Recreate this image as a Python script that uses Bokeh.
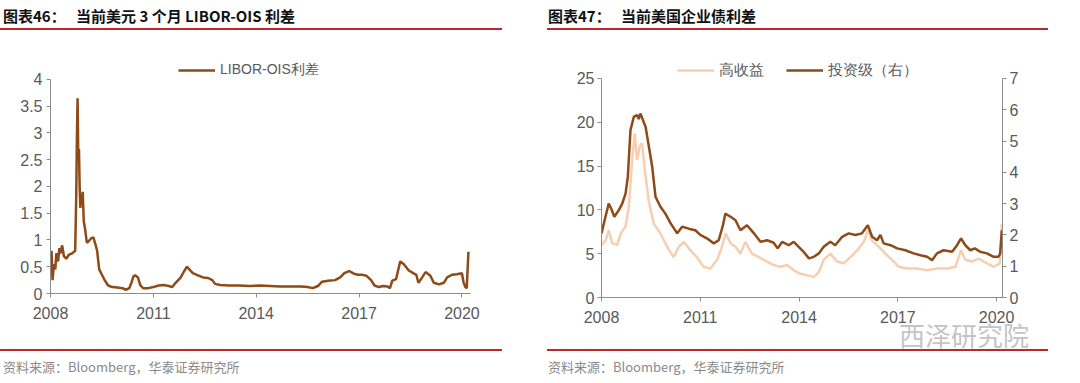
from bokeh.plotting import figure
from bokeh.models import Range1d, LinearAxis, FixedTicker, Legend, LegendItem, Div
from bokeh.layouts import row, column
from bokeh.embed import file_html
from bokeh.resources import INLINE

# ---------------- data ----------------
x_ticks = [2008, 2011, 2014, 2017, 2020]

libor_year = [2008.00, 2008.03, 2008.06, 2008.10, 2008.14, 2008.17, 2008.22, 2008.26, 2008.29, 2008.34,
              2008.39, 2008.46, 2008.53, 2008.63, 2008.72, 2008.75, 2008.77, 2008.79, 2008.81, 2008.83,
              2008.85, 2008.87, 2008.89, 2008.91, 2008.94, 2008.97, 2009.01, 2009.06, 2009.12, 2009.18,
              2009.25, 2009.31, 2009.36, 2009.42, 2009.50, 2009.58, 2009.68, 2009.80, 2009.95, 2010.10,
              2010.20, 2010.30, 2010.37, 2010.42, 2010.47, 2010.55, 2010.62, 2010.70, 2010.85, 2011.00,
              2011.15, 2011.30, 2011.45, 2011.55, 2011.65, 2011.80, 2011.90, 2011.98, 2012.05, 2012.15,
              2012.30, 2012.45, 2012.60, 2012.72, 2012.80, 2012.95, 2013.20, 2013.50, 2013.80, 2014.10,
              2014.40, 2014.70, 2015.00, 2015.30, 2015.50, 2015.65, 2015.80, 2015.92, 2016.10, 2016.30,
              2016.45, 2016.57, 2016.71, 2016.85, 2016.97, 2017.10, 2017.22, 2017.35, 2017.45, 2017.58,
              2017.70, 2017.83, 2017.90, 2017.97, 2018.08, 2018.20, 2018.30, 2018.45, 2018.58, 2018.67,
              2018.73, 2018.84, 2018.94, 2019.08, 2019.18, 2019.33, 2019.47, 2019.57, 2019.71, 2019.85,
              2020.00, 2020.05, 2020.10, 2020.14, 2020.19]
libor_val = [0.45, 0.80, 0.25, 0.55, 0.45, 0.75, 0.60, 0.85, 0.75, 0.90,
             0.70, 0.65, 0.72, 0.75, 0.80, 1.80, 2.90, 3.65, 2.55, 2.70,
             2.00, 1.60, 1.85, 1.65, 1.90, 1.35, 1.20, 0.95, 0.98, 1.03,
             1.05, 0.92, 0.80, 0.45, 0.35, 0.25, 0.15, 0.12, 0.11, 0.10,
             0.07, 0.10, 0.22, 0.32, 0.34, 0.30, 0.15, 0.10, 0.10, 0.12,
             0.15, 0.16, 0.14, 0.12, 0.20, 0.30, 0.42, 0.50, 0.45, 0.38,
             0.34, 0.30, 0.29, 0.25, 0.18, 0.16, 0.15, 0.15, 0.14, 0.15,
             0.14, 0.13, 0.13, 0.13, 0.12, 0.10, 0.14, 0.22, 0.24, 0.25,
             0.30, 0.38, 0.42, 0.37, 0.35, 0.35, 0.33, 0.25, 0.15, 0.12,
             0.14, 0.13, 0.10, 0.24, 0.27, 0.60, 0.55, 0.43, 0.38, 0.35,
             0.20, 0.30, 0.40, 0.33, 0.20, 0.17, 0.20, 0.30, 0.35, 0.36,
             0.38, 0.20, 0.12, 0.10, 0.78]

corp_year = [2008.00, 2008.12, 2008.22, 2008.29, 2008.39, 2008.53, 2008.63, 2008.73, 2008.80, 2008.88,
             2008.98, 2009.08, 2009.13, 2009.18, 2009.23, 2009.34, 2009.44, 2009.54, 2009.64, 2009.79,
             2009.94, 2010.10, 2010.30, 2010.45, 2010.65, 2010.85, 2011.00, 2011.20, 2011.41, 2011.56,
             2011.69, 2011.76, 2011.92, 2012.07, 2012.22, 2012.42, 2012.63, 2012.83, 2013.03, 2013.23,
             2013.35, 2013.49, 2013.69, 2013.84, 2013.99, 2014.14, 2014.30, 2014.45, 2014.60, 2014.75,
             2014.95, 2015.10, 2015.31, 2015.51, 2015.71, 2015.91, 2016.09, 2016.22, 2016.37, 2016.47,
             2016.57, 2016.78, 2016.98, 2017.23, 2017.48, 2017.69, 2017.89, 2018.04, 2018.19, 2018.39,
             2018.65, 2018.80, 2018.92, 2019.05, 2019.20, 2019.34, 2019.50, 2019.71, 2019.91, 2020.06,
             2020.11, 2020.16]
# investment grade (right axis)
ig_val = [2.05, 2.58, 3.00, 2.85, 2.58, 2.80, 3.00, 3.32, 3.86, 5.35,
          5.77, 5.83, 5.70, 5.88, 5.75, 5.45, 4.82, 4.18, 3.22, 2.90,
          2.68, 2.37, 2.05, 2.26, 2.20, 2.15, 2.00, 1.89, 1.73, 1.83,
          2.31, 2.68, 2.58, 2.47, 2.15, 2.31, 2.05, 1.78, 1.83, 1.75,
          1.57, 1.78, 1.67, 1.78, 1.62, 1.46, 1.25, 1.30, 1.41, 1.62,
          1.78, 1.67, 1.94, 2.05, 2.00, 2.05, 2.31, 1.94, 1.83, 2.00,
          1.73, 1.67, 1.57, 1.51, 1.41, 1.35, 1.30, 1.19, 1.41, 1.51,
          1.46, 1.67, 1.89, 1.67, 1.51, 1.57, 1.46, 1.41, 1.30, 1.30,
          1.41, 2.15]
# high yield (left axis)
hy_year = [2008.00, 2008.12, 2008.22, 2008.32, 2008.48, 2008.58, 2008.73, 2008.83, 2008.93, 2009.01,
           2009.08, 2009.16, 2009.23, 2009.33, 2009.43, 2009.59, 2009.79, 2009.99, 2010.19, 2010.35,
           2010.50, 2010.70, 2010.90, 2011.10, 2011.31, 2011.51, 2011.66, 2011.77, 2011.92, 2012.07,
           2012.22, 2012.37, 2012.57, 2012.78, 2013.03, 2013.23, 2013.43, 2013.64, 2013.84, 2014.04,
           2014.24, 2014.45, 2014.60, 2014.75, 2014.95, 2015.16, 2015.36, 2015.56, 2015.77, 2015.97,
           2016.09, 2016.22, 2016.42, 2016.62, 2016.83, 2017.03, 2017.28, 2017.58, 2017.89, 2018.19,
           2018.50, 2018.75, 2018.92, 2019.05, 2019.25, 2019.45, 2019.71, 2019.91, 2020.10, 2020.16]
hy_val = [5.97, 6.50, 7.70, 6.20, 6.00, 7.30, 8.10, 10.30, 15.70, 18.70,
          15.70, 17.20, 17.60, 14.20, 11.10, 8.40, 7.30, 5.80, 4.60, 5.80,
          6.35, 5.40, 4.60, 3.50, 3.30, 4.30, 5.80, 7.30, 6.20, 5.80,
          5.00, 6.35, 5.00, 4.60, 4.10, 3.70, 3.50, 3.70, 3.10, 2.70,
          2.55, 2.35, 2.90, 4.30, 5.00, 4.10, 3.90, 4.60, 5.40, 6.35,
          7.70, 6.50, 5.80, 5.00, 4.30, 3.50, 3.30, 3.30, 3.10, 3.30,
          3.30, 3.50, 5.40, 4.30, 4.10, 4.45, 3.90, 3.50, 3.90, 8.40]

left_ticks = [0, 0.5, 1, 1.5, 2, 2.5, 3, 3.5, 4]
hy_ticks = [0, 5, 10, 15, 20, 25]
ig_ticks = [0, 1, 2, 3, 4, 5, 6, 7]

# ---------------- style ----------------
DARK = "#8E4A17"
LIGHT = "#F7CFB0"
RED = "#C0272D"
AXIS = "#8C8C8C"
LAB = "#595959"
FONT = "Liberation Sans"


def style_axis(ax, ticks):
    ax.ticker = FixedTicker(ticks=ticks)
    ax.major_label_overrides = {t: (f"{t:g}") for t in ticks}
    ax.axis_line_color = AXIS
    ax.major_tick_line_color = AXIS
    ax.minor_tick_line_color = None
    ax.major_tick_in = 0
    ax.major_tick_out = 4
    ax.major_label_text_font = FONT
    ax.major_label_text_font_size = "16px"
    ax.major_label_text_color = LAB
    ax.major_label_standoff = 4


def base_fig(ymax, left_b, right_b, bottom_b, xend):
    p = figure(width=540, height=317, output_backend="svg", toolbar_location=None,
               x_range=Range1d(2008, xend), y_range=Range1d(0, ymax),
               min_border_left=left_b, min_border_right=right_b,
               min_border_top=28, min_border_bottom=bottom_b)
    p.outline_line_color = None
    p.xgrid.grid_line_color = None
    p.ygrid.grid_line_color = None
    p.background_fill_color = "white"
    p.border_fill_color = "white"
    style_axis(p.xaxis[0], x_ticks)
    p.xaxis[0].major_label_standoff = 9
    return p

# ---------- left chart ----------
p1 = base_fig(4.355, 50, 70, 56, 2020.25)
style_axis(p1.yaxis[0], left_ticks)
p1.yaxis[0].bounds = (0, 4)
r1 = p1.line(libor_year, libor_val, line_color=DARK, line_width=2.5)
leg1 = Legend(items=[LegendItem(label="LIBOR-OIS利差", renderers=[r1])],
              location=(128, 213), orientation="horizontal",
              glyph_width=37, glyph_height=20, label_height=20, label_standoff=5,
              padding=0, margin=0, border_line_color=None, background_fill_alpha=0,
              label_text_font=FONT, label_text_font_size="14px", label_text_color=LAB)
p1.add_layout(leg1)

# ---------- right chart ----------
p2 = base_fig(27.05, 61, 78, 52, 2020.18)
style_axis(p2.yaxis[0], hy_ticks)
p2.yaxis[0].bounds = (0, 25)
p2.yaxis[0].major_label_standoff = 3
p2.extra_y_ranges = {"ig": Range1d(0, 7 * 27.05 / 25)}
ax_r = LinearAxis(y_range_name="ig")
style_axis(ax_r, ig_ticks)
ax_r.bounds = (0, 7)
ax_r.major_label_standoff = 3
p2.add_layout(ax_r, "right")
r_hy = p2.line(hy_year, hy_val, line_color=LIGHT, line_width=2.5)
r_ig = p2.line(corp_year, ig_val, line_color=DARK, line_width=2.5, y_range_name="ig")
leg2 = Legend(items=[LegendItem(label="高收益", renderers=[r_hy]),
                     LegendItem(label="投资级（右）", renderers=[r_ig])],
              location=(76, 217), orientation="horizontal", spacing=22,
              glyph_width=37, glyph_height=20, label_height=20, label_standoff=5,
              padding=0, margin=0, border_line_color=None, background_fill_alpha=0,
              label_text_font=FONT, label_text_font_size="15px", label_text_color=LAB)
p2.add_layout(leg2)

# ---------- titles / footers ----------
CJK = "'Noto Sans CJK SC',sans-serif"


def title_div(num, text, lpad, tpad, width):
    html = (f'<div style="margin-left:{lpad}px;width:{width}px;height:30px;box-sizing:border-box;'
            f'padding-top:7px;padding-left:{tpad}px;border-bottom:2px solid {RED};font-family:{CJK};'
            f'font-size:15px;font-weight:bold;line-height:17px;color:#111;white-space:nowrap;">'
            f'<span style="display:inline-block;width:73px;">{num}</span>{text}</div>')
    return Div(text=html, width=540, height=32, margin=0)


def foot_div(lpad, tpad, width, mark=""):
    html = (f'<div style="position:relative;margin-left:{lpad}px;width:{width}px;border-top:2px solid {RED};'
            f'padding-top:8px;padding-left:{tpad}px;font-family:{CJK};font-size:13px;'
            f'line-height:15px;color:#8a8a8a;white-space:nowrap;">资料来源：Bloomberg，华泰证券研究所{mark}</div>')
    return Div(text=html, width=540, height=34, margin=0)


watermark = ('<span style="position:absolute;left:352px;top:-30px;font-family:' + CJK +
             ';font-size:26px;line-height:28px;color:#c4c4c4;">西泽研究院</span>')

left = column(title_div("图表46：", "当前美元 3 个月 LIBOR-OIS 利差", 0, 3, 502), p1,
              foot_div(0, 3, 502), spacing=0)
right = column(title_div("图表47：", "当前美国企业债利差", 7, 1, 501), p2,
               foot_div(7, 1, 501, watermark), spacing=0)
layout = row(left, right, spacing=0)

open("out.html", "w").write(file_html(layout, INLINE))
